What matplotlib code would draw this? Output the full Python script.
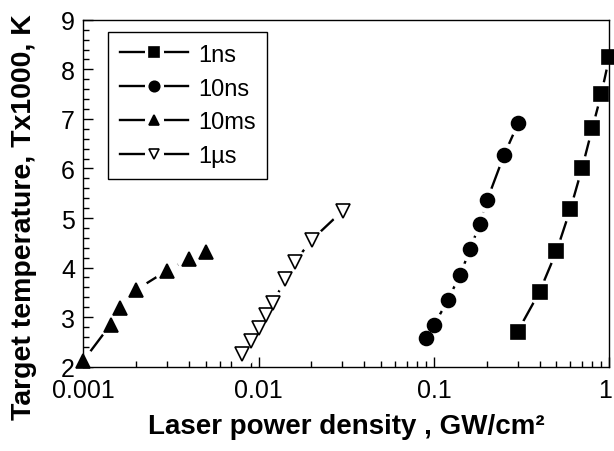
import numpy as np
import matplotlib
matplotlib.use('Agg')
import matplotlib.pyplot as plt
import matplotlib.transforms as mtransforms
from matplotlib.legend_handler import HandlerTuple

plt.rcParams['font.family'] = ['Liberation Sans', 'DejaVu Sans']

# data
x_1ns = [0.30, 0.40, 0.50, 0.60, 0.70, 0.80, 0.90, 1.00]
y_1ns = [2.71, 3.51, 4.33, 5.18, 6.01, 6.81, 7.50, 8.24]

x_10ns = [0.090, 0.100, 0.120, 0.141, 0.161, 0.182, 0.201, 0.251, 0.302]
y_10ns = [2.57, 2.84, 3.34, 3.86, 4.37, 4.88, 5.36, 6.27, 6.91]

x_10ms = [0.0010, 0.00143, 0.00162, 0.0020, 0.0030, 0.0040, 0.0050]
y_10ms = [2.12, 2.85, 3.18, 3.55, 3.94, 4.17, 4.32]

x_1us = [0.0080, 0.0090, 0.0100, 0.0110, 0.0121, 0.0141, 0.0161, 0.0201, 0.0302]
y_1us = [2.26, 2.52, 2.79, 3.04, 3.28, 3.76, 4.12, 4.56, 5.15]

labels = ['1ns', '10ns', '10ms', '1\u00b5s']
xtick_vals = [0.001, 0.01, 0.1, 1]
xtick_labels = ['0.001', '0.01', '0.1', '1']

fig = plt.figure(figsize=(6.14, 4.52), dpi=100)
ax = fig.add_axes([0.1357, 0.1865, 0.8566, 0.7675])

series = [
    (x_1ns, y_1ns, 's', 'black'),
    (x_10ns, y_10ns, 'o', 'black'),
    (x_10ms, y_10ms, '^', 'black'),
    (x_1us, y_1us, 'v', 'white'),
]

handles = []
for (xs, ys, m, fc), lab in zip(series, labels):
    # line, then a white halo so the line stops short of each symbol
    ln, = ax.plot(xs, ys, '-', color='black', lw=1.7, zorder=2)
    halo, = ax.plot(xs, ys, 'o', ms=17, mfc='white', mec='white', ls='none', zorder=2.1)
    ms = 9.5 if m == 's' else 10
    mk, = ax.plot(xs, ys, m, ms=ms, mfc=fc, mec='black', mew=1.2, ls='none',
                  zorder=3, clip_on=False)
    handles.append((ln, halo, mk))

ax.set_xscale('log')
ax.set_xlim(0.001, 1)
ax.set_ylim(2, 9)
ax.set_xticks(xtick_vals)
ax.set_xticklabels(xtick_labels)
ax.set_yticks(range(2, 10))
ax.yaxis.set_minor_locator(matplotlib.ticker.MultipleLocator(0.2))

ax.tick_params(which='both', direction='in', top=False, right=False, labelsize=18)
ax.tick_params(which='major', length=7, width=1)
ax.tick_params(which='minor', length=4, width=1)
ax.tick_params(axis='x', pad=8)
ax.tick_params(axis='y', pad=6)
for s in ax.spines.values():
    s.set_linewidth(1)

# last x label sits at the figure edge, pull it in a little
lbl = ax.get_xticklabels()[-1]
lbl.set_transform(lbl.get_transform() + mtransforms.ScaledTranslation(-4 / 100, 0, fig.dpi_scale_trans))

ax.set_xlabel('Laser power density , GW/cm\u00b2', fontsize=20, fontweight='bold', labelpad=8)
ax.set_ylabel('Target temperature, Tx1000, K', fontsize=20.5, fontweight='bold')
ax.yaxis.set_label_coords(-0.088, 0.434)

leg = ax.legend(handles, labels, handler_map={tuple: HandlerTuple(ndivide=1)},
                loc='upper left', bbox_to_anchor=(0.047, 0.965), borderaxespad=0,
                fontsize=17, markerscale=0.75, handlelength=2.9, handletextpad=0.4,
                labelspacing=0.5, fancybox=False, framealpha=1, edgecolor='black',
                borderpad=0.5)
leg.get_frame().set_linewidth(1)

fig.savefig('out.png', dpi=100)
